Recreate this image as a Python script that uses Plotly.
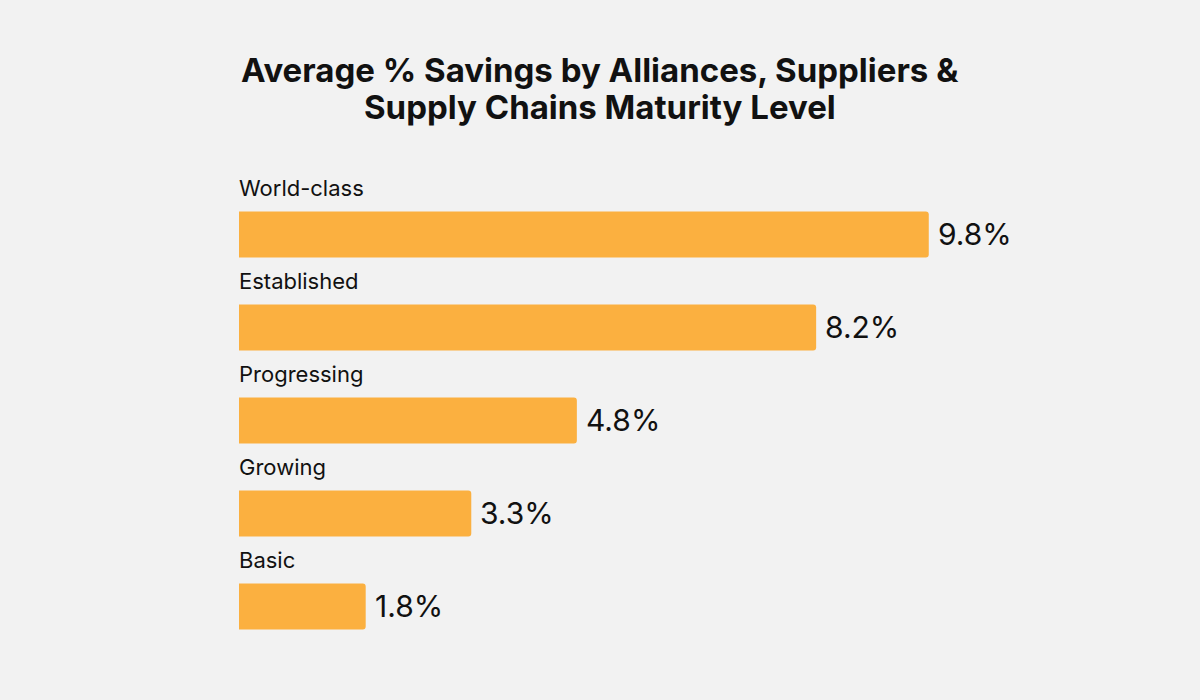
import plotly.graph_objects as go

categories = ["World-class", "Established", "Progressing", "Growing", "Basic"]
savings = [9.8, 8.2, 4.8, 3.3, 1.8]
value_labels = ["9.8%", "8.2%", "4.8%", "3.3%", "1.8%"]

title_lines = ["Average % Savings by Alliances, Suppliers &",
               "Supply Chains Maturity Level"]

BAR_COLOR = "#FBB040"
BG = "#F2F2F2"
FONT = "Inter, 'DejaVu Sans', sans-serif"

W, H = 1200, 700
M_L, M_R, M_T, M_B = 239, 46, 188, 47
PLOT_W = W - M_L - M_R
PLOT_H = H - M_T - M_B

ypos = list(range(len(categories)))

fig = go.Figure()
fig.add_trace(go.Bar(
    x=savings,
    y=ypos,
    orientation="h",
    marker=dict(color=BAR_COLOR, line=dict(width=0)),
    width=0.495,
    hoverinfo="skip",
))

annotations = []
for yi, cat, val, lab in zip(ypos, categories, savings, value_labels):
    annotations.append(dict(
        x=0, y=yi, xref="x", yref="y", text=cat, showarrow=False,
        xanchor="left", yanchor="middle", yshift=47, xshift=-2,
        font=dict(family=FONT, size=22, color="#111111"),
    ))
    annotations.append(dict(
        x=val, y=yi, xref="x", yref="y", text=lab, showarrow=False,
        xanchor="left", yanchor="middle", xshift=7, yshift=1,
        font=dict(family=FONT, size=30, color="#111111"),
    ))

for i, line in enumerate(title_lines):
    py = 70 + 37 * i
    annotations.append(dict(
        x=(600 - M_L) / PLOT_W, y=(H - M_B - py) / PLOT_H,
        xref="paper", yref="paper",
        text="<b>" + line + "</b>", showarrow=False,
        xanchor="center", yanchor="middle",
        font=dict(family=FONT, size=33, color="#111111"),
    ))

fig.update_layout(
    width=W, height=H,
    paper_bgcolor=BG, plot_bgcolor=BG,
    margin=dict(l=M_L, r=M_R, t=M_T, b=M_B),
    showlegend=False,
    barcornerradius=3,
    xaxis=dict(range=[0, 13], visible=False, fixedrange=True),
    yaxis=dict(range=[4.5, -0.5], visible=False, fixedrange=True),
    annotations=annotations,
)

fig.write_html("out.html")
